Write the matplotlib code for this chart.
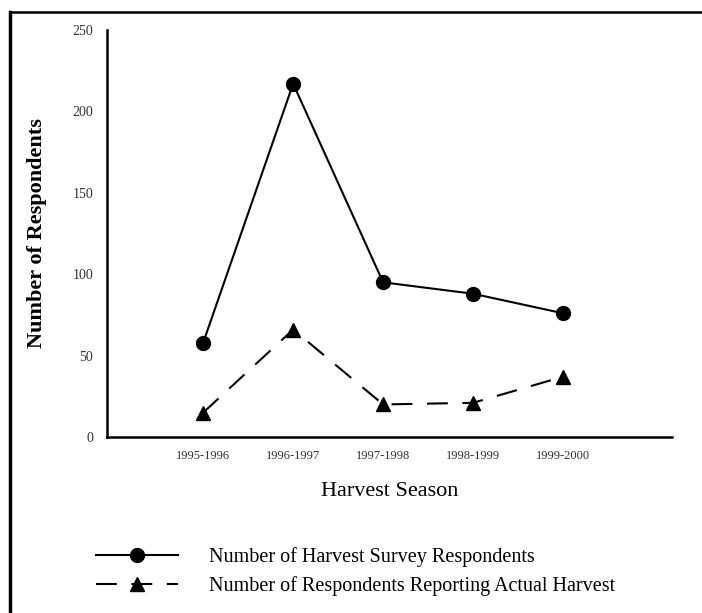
import numpy as np
import matplotlib.pyplot as plt
from matplotlib.lines import Line2D

seasons = ["1995-1996", "1996-1997", "1997-1998", "1998-1999", "1999-2000"]
survey = [58, 217, 95, 88, 76]
actual = [15, 66, 20, 21, 37]

plt.rcParams['font.family'] = ['Liberation Serif', 'DejaVu Serif']

fig = plt.figure(figsize=(7.02, 6.13), dpi=100)
ax = fig.add_axes([0.1524, 0.2871, 0.8046, 0.664])

x = np.arange(len(seasons))
l1, = ax.plot(x, survey, color='black', lw=1.5, marker='o', ms=10,
              label='Number of Harvest Survey Respondents')
l2, = ax.plot(x, actual, color='black', lw=1.5, ls=(0, (10, 7)), marker='^', ms=10,
              label='Number of Respondents Reporting Actual Harvest')

ax.set_xlim(-1.07, 5.21)
ax.set_ylim(0, 250)
ax.set_xticks(x)
ax.set_xticklabels(seasons, fontsize=9, color='#333333')
ax.set_yticks([0, 50, 100, 150, 200, 250])
ax.set_yticklabels(['0', '50', '100', '150', '200', '250'], fontsize=10, color='#333333')
ax.tick_params(length=0, pad=10)
ax.tick_params(axis='x', pad=9)
for s in ['top', 'right']:
    ax.spines[s].set_visible(False)
for s in ['left', 'bottom']:
    ax.spines[s].set_linewidth(1.8)

ax.set_xlabel('Harvest Season', fontsize=16, labelpad=15)
ax.set_ylabel('Number of Respondents', fontsize=16, fontweight='bold', labelpad=18)

# legend below the plot
fig.legend(handles=[l1, l2], loc='upper left', bbox_to_anchor=(0.125, 0.121),
           borderaxespad=0, frameon=False, fontsize=14.5, handlelength=4.1,
           handletextpad=1.5, labelspacing=0.45)

# scanned page frame
fig.add_artist(Line2D([0.0142, 0.0142], [0.0, 0.981], color='black', lw=2.5,
                      transform=fig.transFigure))
fig.add_artist(Line2D([0.0142, 1.0], [0.981, 0.981], color='black', lw=1.8,
                      transform=fig.transFigure))

fig.savefig('out.png', dpi=100)
